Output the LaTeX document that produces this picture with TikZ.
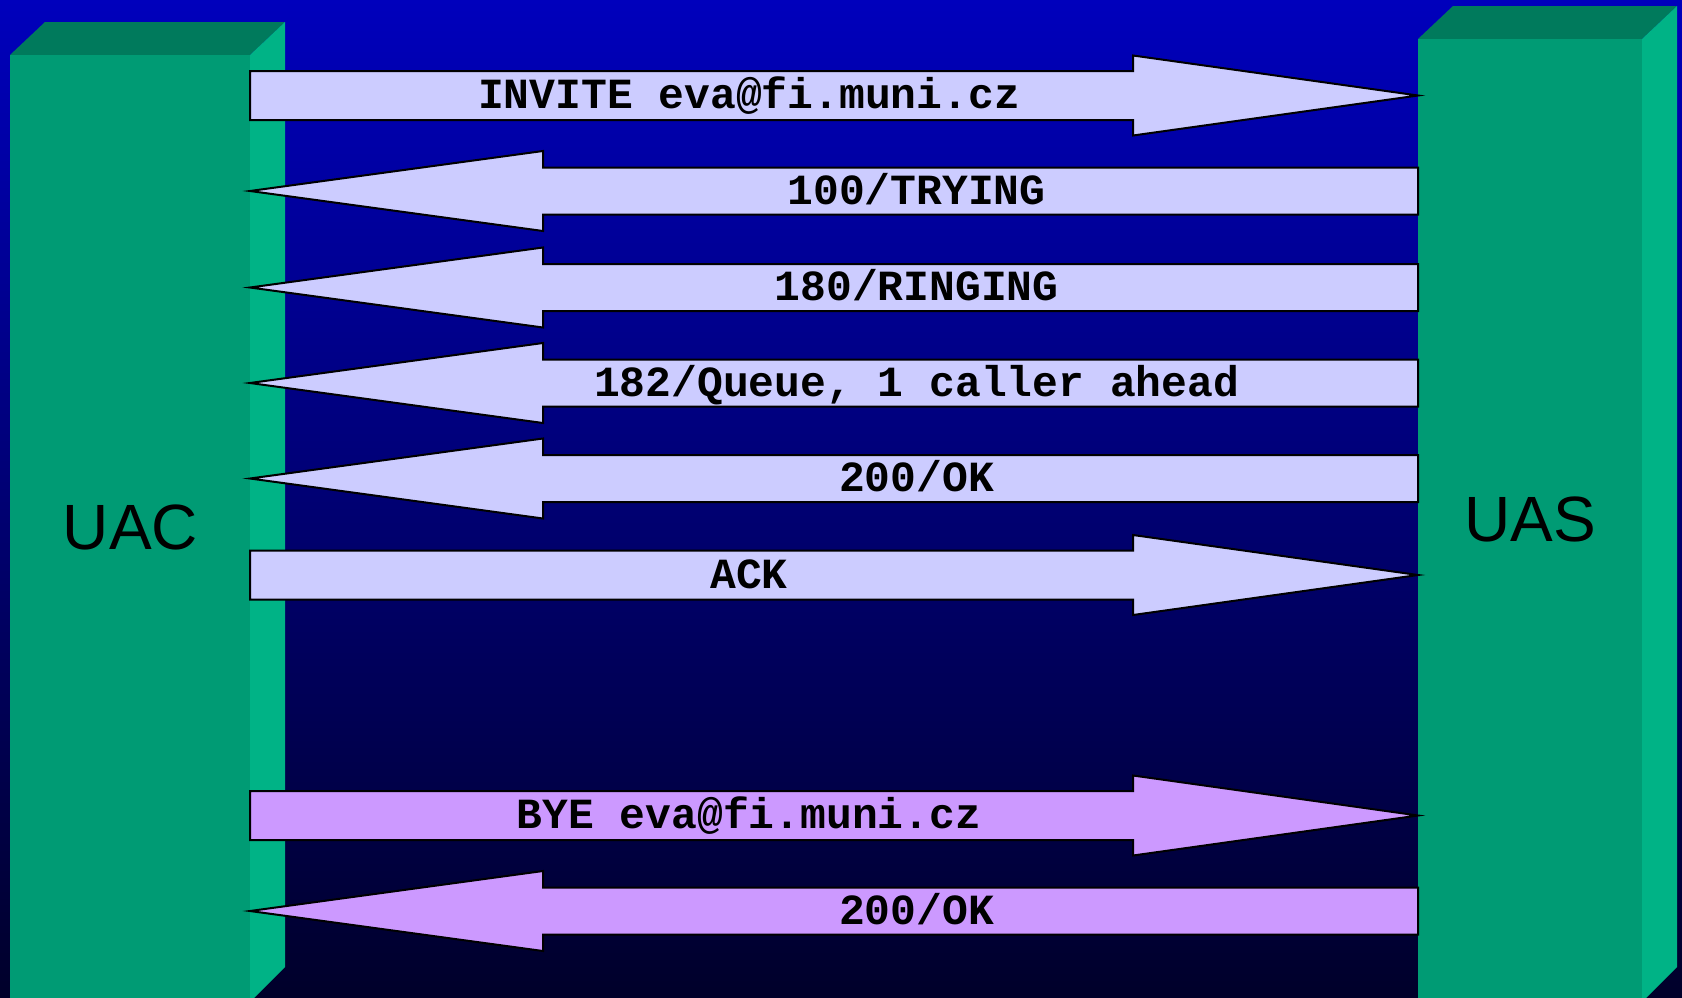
\documentclass[tikz,border=0pt]{standalone}
\usepackage{fontspec}
\setmainfont{Liberation Sans}
\newfontfamily\msgfont{Liberation Mono}

\definecolor{bgtop}{RGB}{0,0,188}
\definecolor{bgbot}{RGB}{0,0,42}
\definecolor{frontface}{RGB}{0,155,116}
\definecolor{topface}{RGB}{0,122,92}
\definecolor{sideface}{RGB}{0,179,134}
\definecolor{reqfill}{RGB}{204,204,255}
\definecolor{byefill}{RGB}{204,153,255}

\tikzset{
  msgshape/.style={draw=black, line width=1pt, line join=miter},
  msglabel/.style={anchor=base, inner sep=0pt, font=\msgfont\bfseries\fontsize{21.5}{26}\selectfont},
  hostbox/.style={fill=frontface, draw=none, inner sep=0pt, anchor=north west,
    font=\fontsize{32}{38}\selectfont},
}

% arrow pointing to the server: name, centre y, fill, label
\newcommand\toserver[4]{%
  \draw[msgshape, fill=#3] (250,#2-24.5) -- (1133,#2-24.5) -- (1133,#2-40) -- (1418,#2)
    -- (1133,#2+40) -- (1133,#2+24.5) -- (250,#2+24.5) -- cycle;
  \node[msglabel] (#1) at (749,#2+13) {#4};}
% arrow pointing to the client: name, centre y, fill, label
\newcommand\toclient[4]{%
  \draw[msgshape, fill=#3] (1418,#2-23.5) -- (543,#2-23.5) -- (543,#2-40) -- (250,#2)
    -- (543,#2+40) -- (543,#2+23.5) -- (1418,#2+23.5) -- cycle;
  \node[msglabel] (#1) at (916.6,#2+13) {#4};}

\begin{document}
\begin{tikzpicture}[x=0.5pt, y=-0.5pt]
  \useasboundingbox (0,0) rectangle (1682,997);
  \clip (0,0) rectangle (1682,997);
  \shade[top color=bgtop, bottom color=bgbot] (0,0) rectangle (1682,997);

  % client column
  \fill[topface] (10,55) -- (45,22) -- (285,22) -- (250,55) -- cycle;
  \fill[sideface] (250,55) -- (285,22) -- (285,967) -- (250,1002) -- cycle;
  \node[hostbox, minimum width=120pt, minimum height=472pt] (uac) at (10,55) {UAC};

  % server column
  \fill[topface] (1418,39) -- (1453,6) -- (1677,6) -- (1642,39) -- cycle;
  \fill[sideface] (1642,39) -- (1677,6) -- (1677,967) -- (1642,1002) -- cycle;
  \node[hostbox, minimum width=112pt, minimum height=480pt] (uas) at (1418,39) {UAS};

  % call setup
  \toserver{invite}{95.5}{reqfill}{INVITE eva@fi.muni.cz}
  \toclient{trying}{191}{reqfill}{100/TRYING}
  \toclient{ringing}{287.5}{reqfill}{180/RINGING}
  \toclient{queue}{383}{reqfill}{182/Queue, 1 caller ahead}
  \toclient{okinv}{478.5}{reqfill}{200/OK}
  \toserver{ack}{575}{reqfill}{ACK}

  % call teardown
  \toserver{bye}{815.5}{byefill}{BYE eva@fi.muni.cz}
  \toclient{okbye}{911}{byefill}{200/OK}
\end{tikzpicture}
\end{document}
